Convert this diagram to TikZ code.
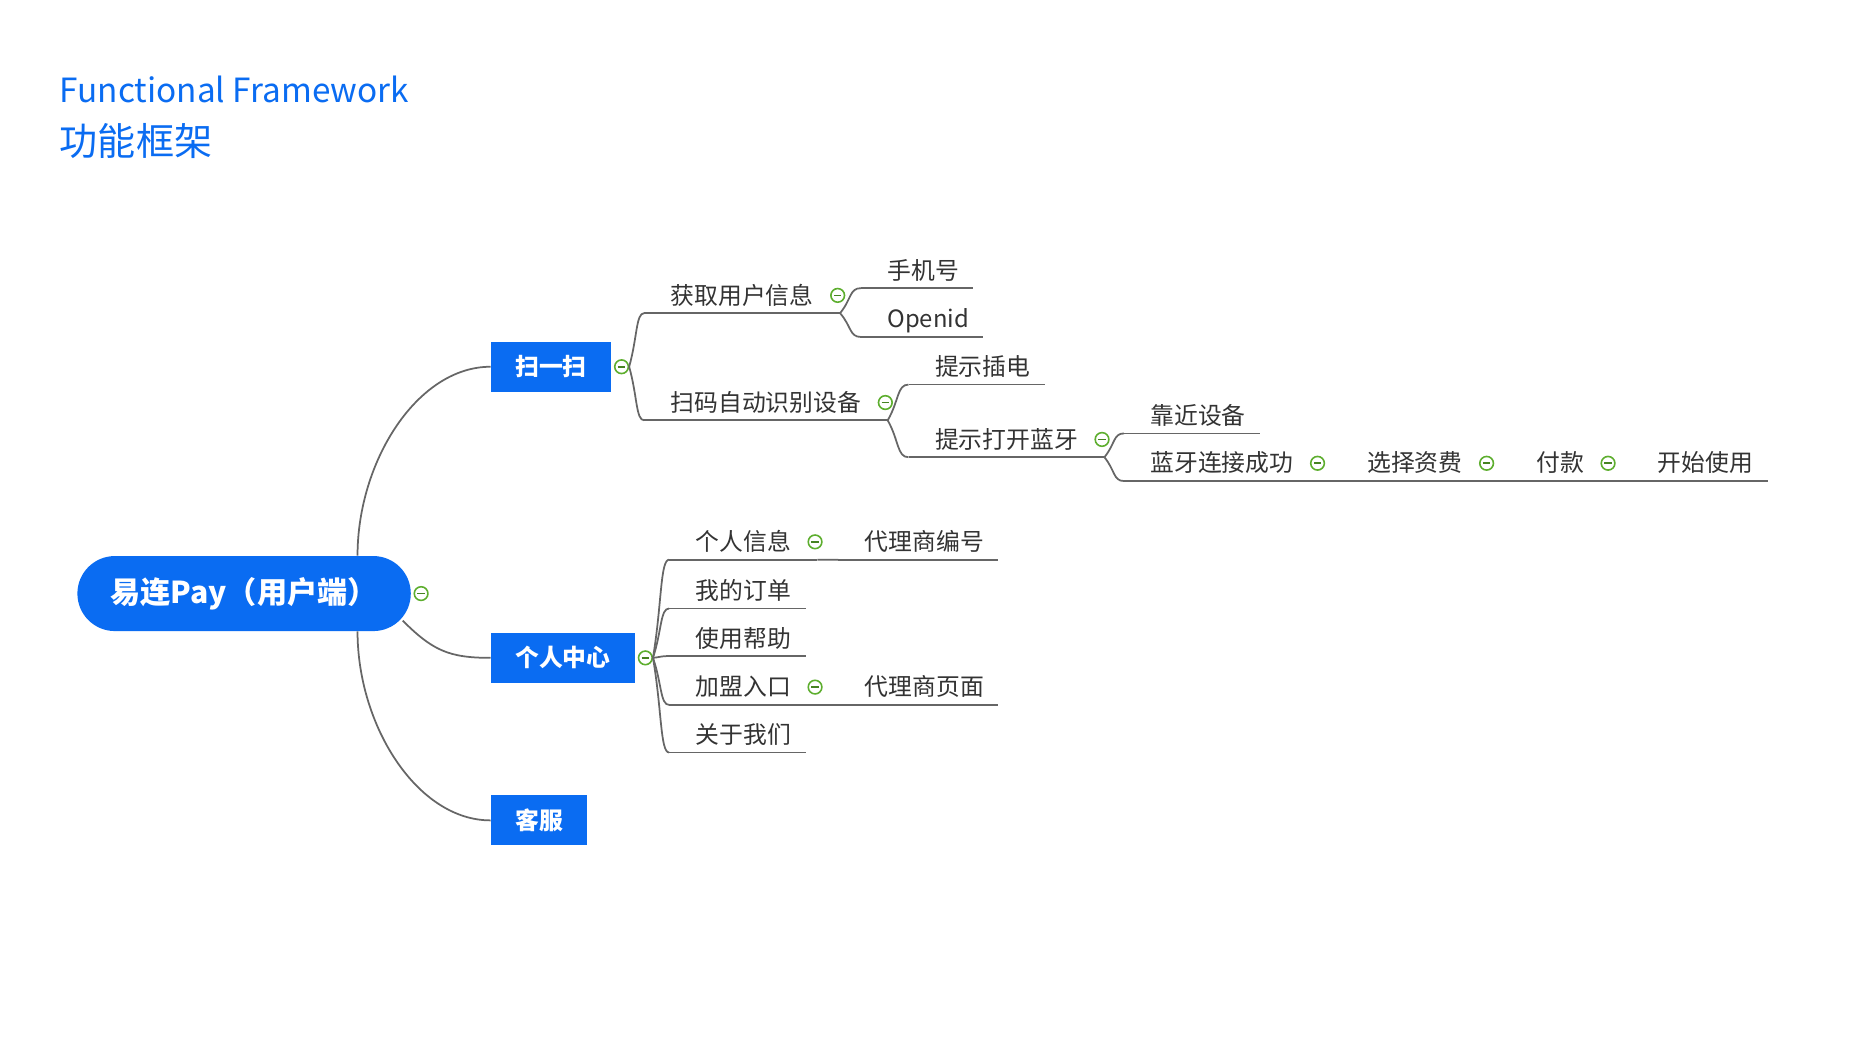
\documentclass[tikz,border=0pt]{standalone}
\usepackage{fontspec}
\setmainfont{Noto Sans CJK SC}
\usetikzlibrary{calc,positioning}
\definecolor{mapblue}{HTML}{0A6CF2}
\definecolor{mapline}{HTML}{666666}
\definecolor{mapgreen}{HTML}{5DAE2E}
\definecolor{maptext}{HTML}{333333}
\tikzset{
  rootnode/.style={fill=mapblue, text=white, rounded corners=23.6pt, minimum width=210pt, minimum height=47.25pt,
    font=\bfseries\fontsize{19pt}{22pt}\selectfont},
  topic/.style={fill=mapblue, text=white, anchor=west, inner xsep=15.4pt, inner ysep=0pt, minimum height=31.5pt,
    font=\bfseries\fontsize{15pt}{18pt}\selectfont},
  leaf/.style={anchor=south west, text=maptext, inner xsep=16.5pt, inner ysep=3.5pt, text height=13pt, text depth=2pt,
    font=\fontsize{15pt}{18pt}\selectfont},
  fold/.style={circle, draw=mapgreen, fill=white, line width=1pt, inner sep=0pt, minimum size=8.6pt,
    path picture={\draw[mapgreen!75!black, line width=1.1pt] ([xshift=-2.3pt]path picture bounding box.center) -- ([xshift=2.3pt]path picture bounding box.center);}},
  link/.style={draw=mapline, line width=1.1pt},
  trunk/.style={to path={.. controls ($(\tikztostart)!0.5!(\tikztostart|-\tikztotarget)$) and ($(\tikztotarget)!0.55!(\tikztostart|-\tikztotarget)$) .. (\tikztotarget)}},
  branch/.style={to path={.. controls ($(\tikztostart)!0.55!(\tikztotarget)$) and ($(\tikztotarget)!0.55!(\tikztostart|-\tikztotarget)$) .. (\tikztotarget)}}
}

\begin{document}
\begin{tikzpicture}[x=0.75pt, y=-0.75pt]
 \fill[white] (0,0) rectangle (1568,882);
 \useasboundingbox (0,0) rectangle (1568,882);

 % title
 \node[anchor=base west, inner sep=0pt, text=mapblue, font=\fontsize{21pt}{24pt}\selectfont] (title) at (50,86) {Functional Framework};
 \node[anchor=base west, inner sep=0pt, text=mapblue, font=\fontsize{24pt}{28pt}\selectfont] (subtitle) at (50,131) {功能框架};

 % root and main topics
 \node[rootnode] (root) at (205,498.5) {易连Pay（用户端）};
 \node[fold, right=1.5pt of root] (mroot) {};
 \node[topic] (sc) at (412,308) {扫一扫};
 \node[fold, right=1.5pt of sc] (msc) {};
 \node[topic] (gr) at (412,552.5) {个人中心};
 \node[fold, right=1.5pt of gr] (mgr) {};
 \node[topic] (kf) at (412,689) {客服};

 \coordinate (rootup) at ([xshift=-33.75pt]root.north east);
 \coordinate (rootdown) at ([xshift=-33.75pt]root.south east);
 \coordinate (rootside) at ([xshift=-5.25pt, yshift=6.75pt]root.south east);
 \draw[link] (rootup) to[trunk] (sc.west);
 \draw[link] (rootside) .. controls +(25,25) and +(-35,0) .. (gr.west);
 \draw[link] (rootdown) to[trunk] (kf.west);

 % scan branch
 \node[leaf] (info) at (541,263) {获取用户信息};
 \node[leaf] (scan) at (541,353) {扫码自动识别设备};
 \node[leaf] (phone) at (723,242) {手机号};
 \node[leaf] (openid) at (723,283) {Openid};
 \node[leaf] (plug) at (763,323) {提示插电};
 \node[leaf] (bt) at (763,384) {提示打开蓝牙};
 \node[leaf] (near) at (944,364) {靠近设备};
 \node[leaf] (btok) at (944,404) {蓝牙连接成功};
 \node[leaf] (fee) at (1126,404) {选择资费};
 \node[leaf] (pay) at (1268,404) {付款};
 \node[leaf] (use) at (1370,404) {开始使用};

 % personal branch
 \node[leaf] (pinfo) at (562,470) {个人信息};
 \node[leaf] (order) at (562,511) {我的订单};
 \node[leaf] (help) at (562,551) {使用帮助};
 \node[leaf] (join) at (562,592) {加盟入口};
 \node[leaf] (about) at (562,632) {关于我们};
 \node[leaf] (agentno) at (704,470) {代理商编号};
 \node[leaf] (agentpg) at (704,592) {代理商页面};

 \foreach \n in {info,scan,bt,btok,fee,pay,pinfo,join}
   \draw[link] (\n.south west) -- (\n.south east);
 \foreach \n in {phone,openid,plug,near,use,order,help,about,agentno,agentpg}
   \draw[link] (\n.south west) -- ([xshift=-7.5pt]\n.south east);

 \foreach \n in {info,scan}
   \draw[link] (msc.east) to[branch] (\n.south west);
 \foreach \n in {pinfo,order,help,join,about}
   \draw[link] (mgr.east) to[branch] (\n.south west);
 \foreach \a/\b in {info/phone,info/openid,scan/plug,scan/bt,bt/near,bt/btok,btok/fee,fee/pay,pay/use,pinfo/agentno,join/agentpg}
   \draw[link] (\a.south east) to[branch] (\b.south west);

 \foreach \n in {info,scan,bt,btok,fee,pay,pinfo,join}
   \node[fold] (m\n) at ([xshift=-1.5pt]\n.east) {};

\end{tikzpicture}
\end{document}
